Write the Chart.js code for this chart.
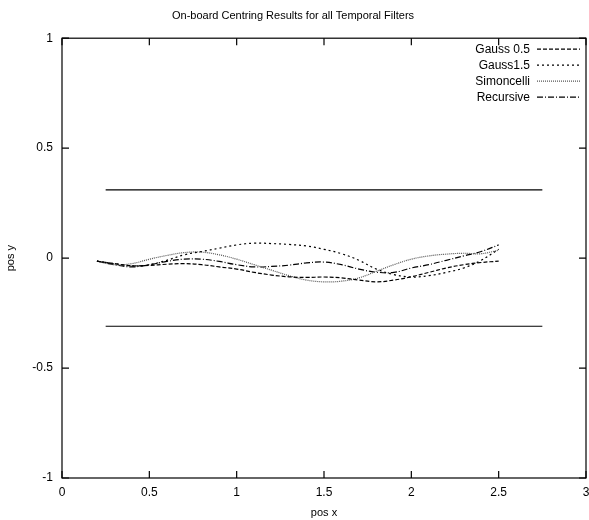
<!DOCTYPE html>
<html>
<head>
<meta charset="utf-8">
<script src="https://cdn.jsdelivr.net/npm/chart.js@4"></script>
<style>
  html, body { margin: 0; padding: 0; background: #fff; }
  #wrap { width: 589px; height: 520px; }
</style>
</head>
<body>
<div id="wrap"><canvas id="myChart" width="589" height="520"></canvas></div>
<script>
// sample positions along x (same for all filters)
var posX = [0.2, 0.3, 0.4, 0.5, 0.6, 0.7, 0.8, 0.9, 1.0, 1.1, 1.2, 1.3,
            1.4, 1.5, 1.6, 1.7, 1.8, 1.9, 2.0, 2.1, 2.2, 2.3, 2.4, 2.5];

// pos y
var gauss05 = [-0.014, -0.025, -0.035, -0.033, -0.028, -0.025, -0.03, -0.04, -0.05, -0.065, -0.077, -0.085,
               -0.088, -0.086, -0.09, -0.1, -0.108, -0.1, -0.085, -0.065, -0.045, -0.03, -0.02, -0.014];
var gauss15 = [-0.014, -0.025, -0.035, -0.03, -0.01, 0.015, 0.03, 0.045, 0.06, 0.068, 0.066, 0.062,
               0.055, 0.04, 0.02, -0.01, -0.05, -0.075, -0.086, -0.08, -0.065, -0.045, -0.01, 0.04];
var simoncelli = [-0.014, -0.03, -0.025, -0.005, 0.012, 0.025, 0.027, 0.015, -0.005, -0.03, -0.055, -0.08,
                  -0.1, -0.108, -0.105, -0.09, -0.06, -0.03, -0.005, 0.01, 0.018, 0.022, 0.02, 0.036];
var recursive = [-0.014, -0.03, -0.04, -0.03, -0.015, -0.005, -0.005, -0.015, -0.03, -0.04, -0.038, -0.032,
                 -0.022, -0.018, -0.03, -0.05, -0.064, -0.065, -0.045, -0.03, -0.01, 0.01, 0.03, 0.06];

// tolerance band
var bandX = [0.25, 2.75];
var bandY = [0.31, -0.31];

var xTicks = [0, 0.5, 1, 1.5, 2, 2.5, 3];
var yTicks = [-1, -0.5, 0, 0.5, 1];

var FONT = "'Liberation Sans', Arial, Helvetica, sans-serif";

function pts(xs, ys) {
  return xs.map(function (x, i) { return { x: x, y: ys[i] }; });
}

function curve(label, ys, dash, color) {
  return {
    label: label,
    data: pts(posX, ys),
    borderColor: color,
    borderWidth: 1.2,
    borderDash: dash,
    pointRadius: 0,
    tension: 0.4,
    fill: false
  };
}

var datasets = [
  curve('Gauss 0.5', gauss05, [4, 2], '#000'),
  curve('Gauss1.5', gauss15, [2, 3], '#000'),
  curve('Simoncelli', simoncelli, [1, 1], '#555'),
  curve('Recursive', recursive, [6, 2, 1, 2], '#000')
];
bandY.forEach(function (y) {
  datasets.push({
    label: '',
    band: true,
    data: bandX.map(function (x) { return { x: x, y: y }; }),
    borderColor: '#000',
    borderWidth: 1.2,
    pointRadius: 0,
    tension: 0
  });
});

// gnuplot look: box frame, inward mirrored ticks, legend inside top-right
var gnuplotLook = {
  id: 'gnuplotLook',
  afterDatasetsDraw: function (chart) {
    var ctx = chart.ctx, a = chart.chartArea;
    var sx = chart.scales.x, sy = chart.scales.y;
    ctx.save();
    ctx.strokeStyle = '#000';
    ctx.lineWidth = 1.2;
    ctx.setLineDash([]);
    ctx.strokeRect(a.left, a.top, a.right - a.left, a.bottom - a.top);
    ctx.beginPath();
    xTicks.forEach(function (v) {
      var px = sx.getPixelForValue(v);
      ctx.moveTo(px, a.bottom); ctx.lineTo(px, a.bottom - 7);
      ctx.moveTo(px, a.top); ctx.lineTo(px, a.top + 7);
    });
    yTicks.forEach(function (v) {
      var py = sy.getPixelForValue(v);
      ctx.moveTo(a.left, py); ctx.lineTo(a.left + 7, py);
      ctx.moveTo(a.right, py); ctx.lineTo(a.right - 7, py);
    });
    ctx.stroke();

    // legend
    ctx.font = '12px ' + FONT;
    ctx.textAlign = 'right';
    ctx.textBaseline = 'middle';
    var row = 0;
    chart.data.datasets.forEach(function (ds) {
      if (ds.band) return;
      var y = a.top + 11 + row * 16;
      ctx.fillStyle = '#000';
      ctx.fillText(ds.label, a.right - 56, y);
      ctx.strokeStyle = ds.borderColor;
      ctx.lineWidth = 1.2;
      ctx.setLineDash(ds.borderDash || []);
      ctx.beginPath();
      ctx.moveTo(a.right - 49, y);
      ctx.lineTo(a.right - 6, y);
      ctx.stroke();
      row++;
    });
    ctx.restore();
  }
};

function plainNum(v) { return String(v); }

var ctx = document.getElementById('myChart').getContext('2d');
new Chart(ctx, {
  type: 'line',
  data: { datasets: datasets },
  plugins: [gnuplotLook],
  options: {
    responsive: false,
    animation: false,
    layout: { padding: { left: 0, right: 3, top: 0, bottom: 0 } },
    plugins: {
      legend: { display: false },
      tooltip: { enabled: false },
      title: {
        display: true,
        text: 'On-board Centring Results for all Temporal Filters',
        color: '#000',
        font: { family: FONT, size: 11, weight: 'normal' },
        padding: { top: 9, bottom: 16 }
      }
    },
    scales: {
      x: {
        type: 'linear',
        min: 0, max: 3,
        afterBuildTicks: function (s) { s.ticks = xTicks.map(function (v) { return { value: v }; }); },
        afterFit: function (s) { s.height = 42; s.paddingLeft = 0; s.paddingRight = 0; },
        grid: { display: false, drawTicks: false, tickLength: 0 },
        border: { display: false },
        ticks: { color: '#000', padding: 7, font: { family: FONT, size: 12 }, maxRotation: 0, callback: plainNum },
        title: { display: true, text: 'pos x', color: '#000', padding: { top: 2, bottom: 0 }, font: { family: FONT, size: 11 } }
      },
      y: {
        min: -1, max: 1,
        afterBuildTicks: function (s) { s.ticks = yTicks.map(function (v) { return { value: v }; }); },
        afterFit: function (s) { s.width = 62; },
        grid: { display: false, drawTicks: false, tickLength: 0 },
        border: { display: false },
        ticks: { color: '#000', padding: 9, font: { family: FONT, size: 12 }, callback: plainNum },
        title: { display: true, text: 'pos y', color: '#000', padding: { top: 4, bottom: 0 }, font: { family: FONT, size: 11 } }
      }
    }
  }
});
</script>
</body>
</html>
